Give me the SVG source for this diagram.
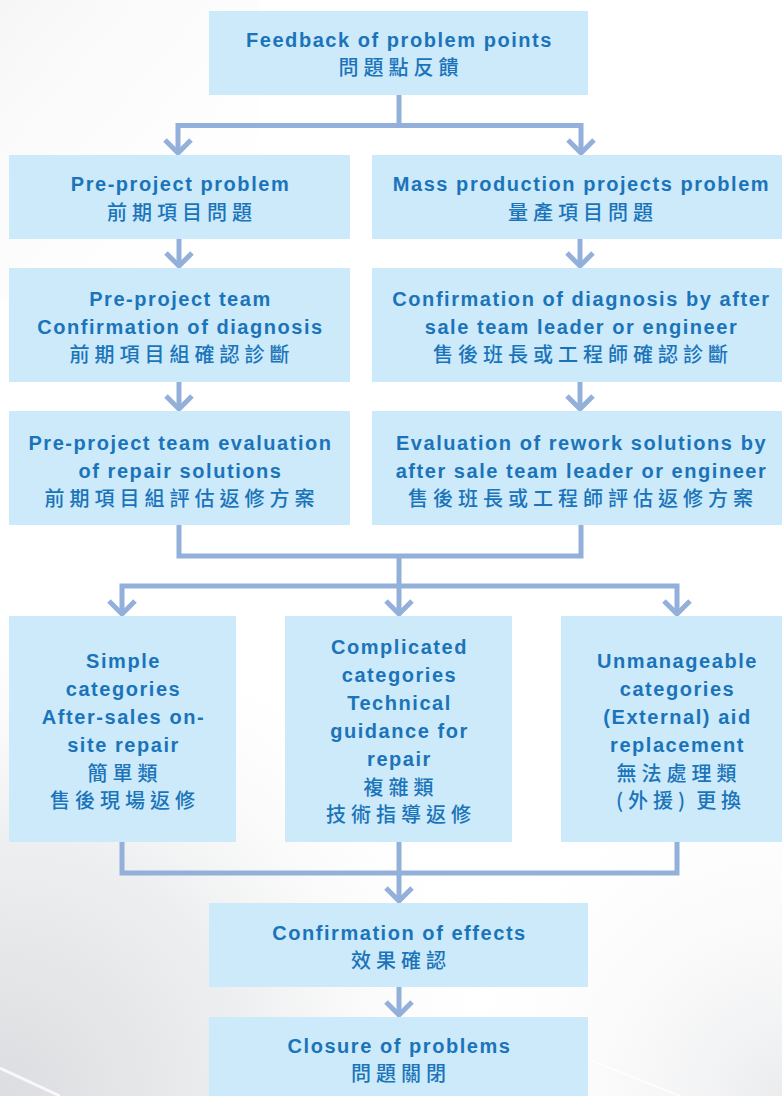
<svg xmlns="http://www.w3.org/2000/svg" width="782" height="1096" viewBox="0 0 782 1096">
<style>
.box{fill:#cceaf9}
.en{font-family:"Liberation Sans",Arial,sans-serif;font-weight:bold;font-size:20px;letter-spacing:1.55px;fill:#1b74ba;text-anchor:middle}
.zh{font-family:"Noto Sans CJK TC","Noto Sans CJK SC",sans-serif;font-weight:500;font-size:20px;letter-spacing:5px;fill:#1b74ba;text-anchor:middle}
.ln{fill:none;stroke:#93b0da;stroke-width:5;stroke-linejoin:miter;stroke-linecap:butt}
</style>
<defs>
<radialGradient id="bgl" cx="0" cy="1096" r="520" gradientUnits="userSpaceOnUse">
<stop offset="0" stop-color="#dcdde0"/>
<stop offset="0.5" stop-color="#eeeff0"/>
<stop offset="1" stop-color="#ffffff" stop-opacity="0"/>
</radialGradient>
<radialGradient id="bgr" cx="782" cy="1096" r="360" gradientUnits="userSpaceOnUse">
<stop offset="0" stop-color="#ebecee"/>
<stop offset="1" stop-color="#ffffff" stop-opacity="0"/>
</radialGradient>
<linearGradient id="bgt" x1="0" y1="0" x2="1" y2="1">
<stop offset="0" stop-color="#f6f6f6"/>
<stop offset="1" stop-color="#ffffff" stop-opacity="0"/>
</linearGradient>
<polyline id="chev" points="-13,-13 0,0 13,-13" class="ln"/>
</defs>
<g id="background">
<rect width="782" height="1096" fill="#ffffff"/>
<rect width="260" height="300" fill="url(#bgt)"/>
<rect width="782" height="1096" fill="url(#bgl)"/>
<rect width="782" height="1096" fill="url(#bgr)"/>
<path d="M0 1068 L60 1096" stroke="#ffffff" stroke-width="3" opacity="0.8"/>
<path d="M590 1060 L680 1096" stroke="#ffffff" stroke-width="2" opacity="0.8"/>
</g>
<g id="connectors">
<path class="ln" d="M399 95 V125.5"/>
<path class="ln" d="M178 152 V125.5 H581 V152"/>
<use href="#chev" x="178" y="153"/>
<use href="#chev" x="581" y="153"/>
<path class="ln" d="M179 239 V265"/>
<use href="#chev" x="179" y="266"/>
<path class="ln" d="M580 239 V265"/>
<use href="#chev" x="580" y="266"/>
<path class="ln" d="M179 382 V408"/>
<use href="#chev" x="179" y="409"/>
<path class="ln" d="M580 382 V408"/>
<use href="#chev" x="580" y="409"/>
<path class="ln" d="M179 525 V556 H581 V525"/>
<path class="ln" d="M399 556 V613"/>
<path class="ln" d="M122 613 V586 H677 V613"/>
<use href="#chev" x="122" y="614"/>
<use href="#chev" x="399" y="614"/>
<use href="#chev" x="677" y="614"/>
<path class="ln" d="M122 842 V873 H677 V842"/>
<path class="ln" d="M399 842 V900"/>
<use href="#chev" x="399" y="901"/>
<path class="ln" d="M399 987 V1014"/>
<use href="#chev" x="399" y="1015"/>
</g>
<g id="n1"><rect class="box" x="209" y="11" width="379" height="84"/>
<text class="en" x="399.5" y="46.5">Feedback of problem points</text>
<text class="zh" x="401" y="75">問題點反饋</text></g>
<g id="n2"><rect class="box" x="9" y="155" width="341" height="84"/>
<text class="en" x="180.5" y="191">Pre-project problem</text>
<text class="zh" x="182" y="219.5">前期項目問題</text></g>
<g id="n3"><rect class="box" x="372" y="155" width="420" height="84"/>
<text class="en" x="581.5" y="191">Mass production projects problem</text>
<text class="zh" x="583" y="219.5">量產項目問題</text></g>
<g id="n4"><rect class="box" x="9" y="268" width="341" height="114"/>
<text class="en" x="180.5" y="306">Pre-project team</text>
<text class="en" x="180.5" y="334">Confirmation of diagnosis</text>
<text class="zh" x="182" y="361.5">前期項目組確認診斷</text></g>
<g id="n5"><rect class="box" x="372" y="268" width="420" height="114"/>
<text class="en" x="581.5" y="306">Confirmation of diagnosis by after</text>
<text class="en" x="581.5" y="334">sale team leader or engineer</text>
<text class="zh" x="583" y="361.5">售後班長或工程師確認診斷</text></g>
<g id="n6"><rect class="box" x="9" y="411" width="341" height="114"/>
<text class="en" x="180.5" y="450">Pre-project team evaluation</text>
<text class="en" x="180.5" y="478">of repair solutions</text>
<text class="zh" x="182" y="505.5">前期項目組評估返修方案</text></g>
<g id="n7"><rect class="box" x="372" y="411" width="420" height="114"/>
<text class="en" x="581.5" y="450">Evaluation of rework solutions by</text>
<text class="en" x="581.5" y="478">after sale team leader or engineer</text>
<text class="zh" x="583" y="505.5">售後班長或工程師評估返修方案</text></g>
<g id="n8"><rect class="box" x="9" y="616" width="227" height="226"/>
<text class="en" x="123.5" y="668">Simple</text>
<text class="en" x="123.5" y="696">categories</text>
<text class="en" x="123.5" y="724">After-sales on-</text>
<text class="en" x="123.5" y="752">site repair</text>
<text class="zh" x="125" y="780.5">簡單類</text>
<text class="zh" x="125" y="808">售後現場返修</text></g>
<g id="n9"><rect class="box" x="285" y="616" width="227" height="226"/>
<text class="en" x="399.5" y="654">Complicated</text>
<text class="en" x="399.5" y="682">categories</text>
<text class="en" x="399.5" y="710">Technical</text>
<text class="en" x="399.5" y="738">guidance for</text>
<text class="en" x="399.5" y="766">repair</text>
<text class="zh" x="401" y="794.5">複雜類</text>
<text class="zh" x="401" y="821.5">技術指導返修</text></g>
<g id="n10"><rect class="box" x="561" y="616" width="231" height="226"/>
<text class="en" x="677.5" y="668">Unmanageable</text>
<text class="en" x="677.5" y="696">categories</text>
<text class="en" x="677.5" y="724">(External) aid</text>
<text class="en" x="677.5" y="752">replacement</text>
<text class="zh" x="679" y="780.5">無法處理類</text>
<text class="zh" x="681" y="808">(外援)<tspan dx="6">更換</tspan></text></g>
<g id="n11"><rect class="box" x="209" y="903" width="379" height="84"/>
<text class="en" x="399.5" y="939.5">Confirmation of effects</text>
<text class="zh" x="401" y="967.5">效果確認</text></g>
<g id="n12"><rect class="box" x="209" y="1017" width="379" height="90"/>
<text class="en" x="399.5" y="1053">Closure of problems</text>
<text class="zh" x="401" y="1080.5">問題關閉</text></g>
</svg>
